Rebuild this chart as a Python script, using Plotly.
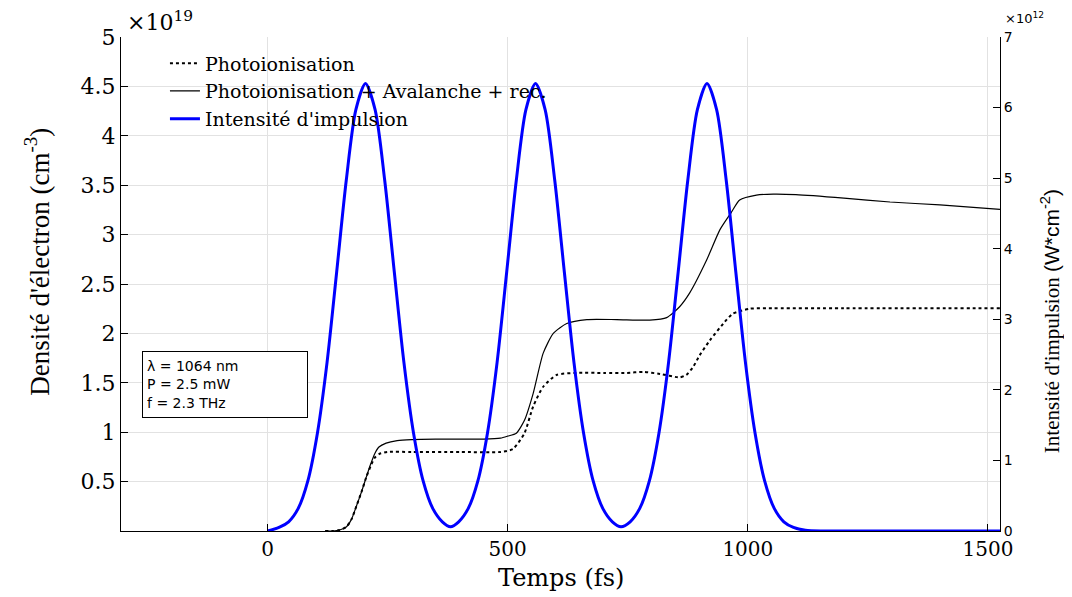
import plotly.graph_objects as go

# ---------------- data ----------------
# Time axis (fs) and electron density (x 1e19 cm^-3)
t_photo = [120, 136, 150, 164, 175, 185, 196, 206, 215, 223, 233, 250, 300, 400, 485,
           511, 535, 553, 574, 602, 644, 700, 748, 782, 817, 858, 872, 886, 900, 921,
           949, 969, 1004, 1039, 1200, 1525]
n_photo = [0.0, 0.0, 0.01, 0.04, 0.12, 0.25, 0.40, 0.55, 0.66, 0.74, 0.78, 0.80, 0.80, 0.80, 0.80,
           0.83, 0.99, 1.26, 1.46, 1.58, 1.60, 1.60, 1.60, 1.61, 1.59, 1.555, 1.58, 1.66, 1.78, 1.93,
           2.10, 2.20, 2.25, 2.255, 2.255, 2.255]

t_aval = [120, 136, 150, 164, 175, 185, 196, 206, 215, 223, 232, 247, 270, 300, 350, 400, 450,
          485, 500, 518, 535, 553, 574, 595, 623, 665, 727, 796, 831, 858, 879, 914, 942,
          965, 983, 1018, 1053, 1100, 1200, 1296, 1400, 1525]
n_aval = [0.0, 0.0, 0.01, 0.04, 0.12, 0.25, 0.40, 0.55, 0.68, 0.78, 0.85, 0.89, 0.915, 0.925, 0.93, 0.93, 0.93,
          0.94, 0.96, 0.99, 1.12, 1.39, 1.80, 2.00, 2.10, 2.14, 2.14, 2.135, 2.16, 2.27, 2.41, 2.74, 3.05,
          3.22, 3.35, 3.40, 3.41, 3.405, 3.37, 3.33, 3.30, 3.256]

# Pulse intensity (x 1e12 W cm^-2)
t_int = [0, 24, 44, 64, 84, 104, 124, 144, 164, 184, 204, 224, 244, 264, 284, 304, 324, 344, 364, 381,
         398, 418, 438, 458, 478, 498, 518, 538, 558, 578, 598, 618, 638, 658, 678, 698, 718, 736,
         755, 775, 795, 815, 835, 855, 875, 895, 915, 935, 955, 975, 995, 1015, 1035, 1055, 1075,
         1095, 1120, 1160, 1300, 1525]
I_int = [0.0, 0.05, 0.13, 0.32, 0.71, 1.39, 2.39, 3.67, 4.97, 5.97, 6.34, 5.97, 4.97, 3.67, 2.39, 1.39, 0.71, 0.32, 0.13, 0.06,
         0.13, 0.32, 0.71, 1.39, 2.39, 3.67, 4.97, 5.97, 6.34, 5.97, 4.97, 3.67, 2.39, 1.39, 0.71, 0.32, 0.13, 0.06,
         0.13, 0.32, 0.71, 1.39, 2.39, 3.67, 4.97, 5.97, 6.34, 5.97, 4.97, 3.67, 2.39, 1.39, 0.71, 0.32, 0.13,
         0.05, 0.01, 0.0, 0.0, 0.0]

x_ticks = [0, 500, 1000, 1500]
y_ticks = [0.5, 1, 1.5, 2, 2.5, 3, 3.5, 4, 4.5, 5]
y_ticktext = ["0.5", "1", "1.5", "2", "2.5", "3", "3.5", "4", "4.5", "5"]
y2_ticks = [0, 1, 2, 3, 4, 5, 6, 7]

legend_names = ["Photoionisation", "Photoionisation + Avalanche + rec.", "Intensité d'impulsion"]
params_text = "λ = 1064 nm<br>P = 2.5 mW<br>f = 2.3 THz"

SERIF = "DejaVu Serif"
TIMES = "Liberation Serif"
SANS = "DejaVu Sans"

fig = go.Figure()
fig.add_trace(go.Scatter(x=t_photo, y=n_photo, mode="lines", name=legend_names[0],
                         line=dict(color="black", width=2, dash="dot", shape="spline", smoothing=0.6)))
fig.add_trace(go.Scatter(x=t_aval, y=n_aval, mode="lines", name=legend_names[1],
                         line=dict(color="black", width=1.2, shape="spline", smoothing=0.6)))
fig.add_trace(go.Scatter(x=t_int, y=I_int, mode="lines", name=legend_names[2], yaxis="y2",
                         line=dict(color="#0000ff", width=3, shape="spline", smoothing=0.8)))

# page body keeps an 8px margin, so the figure is offset by 8px inside the window
fig.update_layout(
    width=1056, height=589,
    margin=dict(l=113, r=64, t=29, b=66),
    paper_bgcolor="white", plot_bgcolor="white",
    xaxis=dict(range=[-305, 1525], tickvals=x_ticks, ticks="inside", ticklen=7, tickcolor="black",
               showline=True, linecolor="black", linewidth=1, showgrid=True, gridcolor="#e2e2e2",
               zeroline=False, tickfont=dict(family=SERIF, size=20, color="black")),
    yaxis=dict(range=[0, 5], tickvals=y_ticks, ticktext=y_ticktext, ticks="inside", ticklen=7,
               tickcolor="black", showline=True, linecolor="black", linewidth=1, showgrid=True,
               gridcolor="#e2e2e2", zeroline=False, tickfont=dict(family=SERIF, size=22, color="black")),
    yaxis2=dict(range=[0, 7], tickvals=y2_ticks, overlaying="y", side="right", ticks="inside", ticklen=7,
                tickcolor="black", showline=True, linecolor="black", linewidth=1, showgrid=False,
                zeroline=False, tickfont=dict(family=SANS, size=14, color="black")),
    legend=dict(x=0.050, y=0.985, xanchor="left", yanchor="top", bgcolor="rgba(0,0,0,0)",
                borderwidth=0, font=dict(family=SERIF, size=19, color="black")),
    showlegend=True,
)

annotations = [
    dict(text="×10<sup>19</sup>", x=0.0045, y=1.0, xref="paper", yref="paper", xanchor="left",
         yanchor="bottom", showarrow=False, font=dict(family=SERIF, size=22, color="black")),
    dict(text="×10<sup>12</sup>", x=1.003, y=1.018, xref="paper", yref="paper", xanchor="left",
         yanchor="bottom", showarrow=False, font=dict(family=SANS, size=13, color="black")),
    dict(text="Densité d'électron (cm<sup>-3</sup>)", x=-0.0956, y=0.545, xref="paper", yref="paper",
         xanchor="center", yanchor="middle", textangle=-90, showarrow=False,
         font=dict(family=TIMES, size=27, color="black")),
    dict(text="Intensité d'impulsion <span style='font-family:Liberation Sans'>(W*cm<sup>-2</sup>)</span>",
         x=1.057, y=0.425, xref="paper", yref="paper", xanchor="center", yanchor="middle",
         textangle=-90, showarrow=False, font=dict(family=TIMES, size=21, color="black")),
    dict(text="Temps (fs)", x=0.5, y=-0.095, xref="paper", yref="paper", xanchor="center",
         yanchor="middle", showarrow=False, font=dict(family=SERIF, size=24, color="black")),
    dict(text=params_text, x=0.0239, y=0.3644, xref="paper", yref="paper", xanchor="left",
         yanchor="top", align="left", showarrow=False, bordercolor="black", borderwidth=1,
         borderpad=4, width=156, height=57, bgcolor="white",
         font=dict(family=SANS, size=14, color="black")),
]
fig.update_layout(annotations=annotations)

fig.write_html("out.html")
